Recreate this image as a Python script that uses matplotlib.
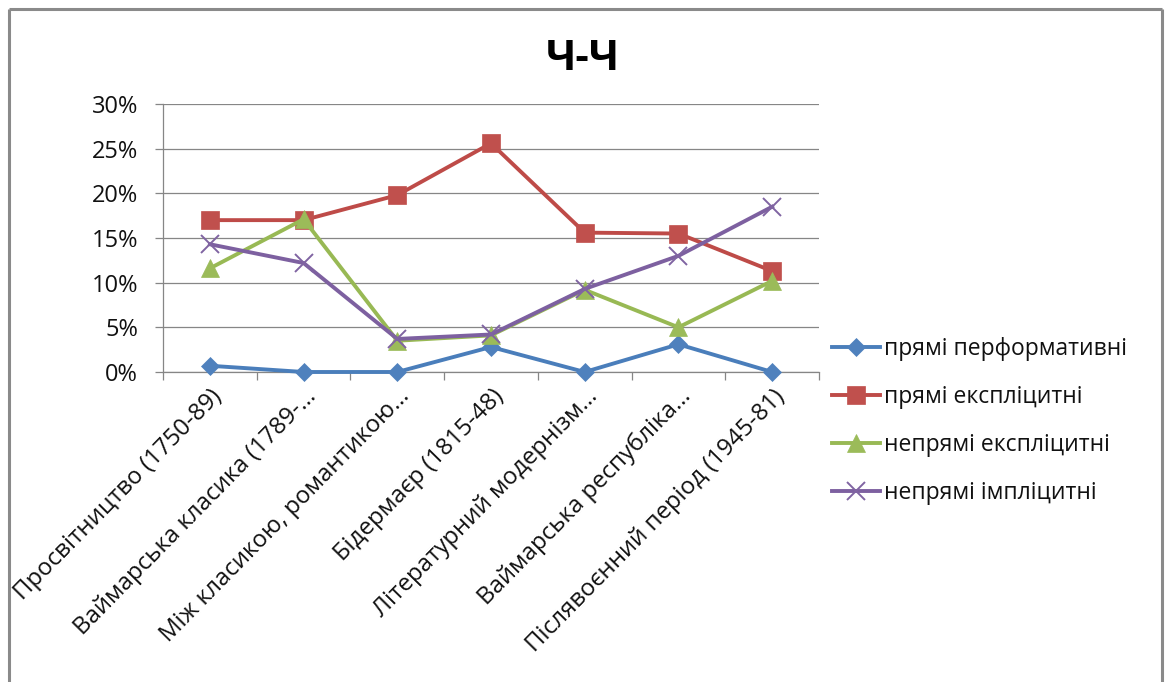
import matplotlib
matplotlib.use("Agg")
import matplotlib.pyplot as plt
from matplotlib.lines import Line2D
from matplotlib.ticker import PercentFormatter, FixedLocator
import matplotlib.transforms as mtransforms

plt.rcParams['font.family'] = ['Open Sans', 'DejaVu Sans']

title = "Ч-Ч"
categories = [
    "Просвітництво (1750-89)",
    "Ваймарська класика (1789-…",
    "Між класикою, романтикою…",
    "Бідермаєр (1815-48)",
    "Літературний модернізм…",
    "Ваймарська республіка…",
    "Післявоєнний період (1945-81)",
]
series_names = [
    "прямі перформативні",
    "прямі експліцитні",
    "непрямі експліцитні",
    "непрямі імпліцитні",
]
# shares, in percent
direct_performative = [0.7, 0.0, 0.0, 2.8, 0.0, 3.1, 0.0]
direct_explicit = [17.0, 17.0, 19.8, 25.6, 15.6, 15.5, 11.3]
indirect_explicit = [11.6, 17.1, 3.5, 4.1, 9.2, 5.0, 10.2]
indirect_implicit = [14.3, 12.2, 3.7, 4.2, 9.3, 13.0, 18.5]

series_values = [direct_performative, direct_explicit, indirect_explicit, indirect_implicit]
line_colors = ["#4A7EBB", "#BE4B48", "#98B954", "#7D60A0"]
marker_colors = ["#4F81BD", "#C0504D", "#9BBB59", "#8064A2"]
markers = ["D", "s", "^", "x"]
marker_sizes = [9.5, 13.5, 13.5, 13.5]

W, H = 1166, 682
fig = plt.figure(figsize=(W / 100, H / 100), dpi=100)
fig.patch.set_facecolor("white")

left, right, top, bottom = 163, 819, 104, 372
ax = fig.add_axes([left / W, 1 - bottom / H, (right - left) / W, (bottom - top) / H])

grey = "#868686"
x = list(range(len(categories)))
for vals, lc, mc, m, ms, name in zip(series_values, line_colors, marker_colors,
                                      markers, marker_sizes, series_names):
    if m == "x":
        ax.plot(x, vals, color=lc, lw=2.8, marker=m, ms=ms, mew=1.4,
                mec=mc, label=name, clip_on=False, zorder=3)
    else:
        ax.plot(x, vals, color=lc, lw=2.8, marker=m, ms=ms, mfc=mc, mec=mc,
                mew=0.5, label=name, clip_on=False, zorder=3)

ax.set_xlim(-0.5, len(categories) - 0.5)
ax.set_ylim(0, 30)
ax.yaxis.set_major_locator(FixedLocator([0, 5, 10, 15, 20, 25, 30]))
ax.yaxis.set_major_formatter(PercentFormatter(decimals=0))
ax.grid(axis="y", color=grey, lw=0.9)
ax.set_axisbelow(True)

for s in ["top", "right"]:
    ax.spines[s].set_visible(False)
for s in ["left", "bottom"]:
    ax.spines[s].set_color(grey)
    ax.spines[s].set_linewidth(0.9)

ax.tick_params(axis="y", length=6, width=0.9, color=grey, pad=12,
               labelsize=17, labelcolor="#111111")

# category ticks sit on the boundaries between categories
ax.xaxis.set_major_locator(FixedLocator(x))
ax.xaxis.set_minor_locator(FixedLocator([i - 0.5 for i in range(len(categories) + 1)]))
ax.tick_params(axis="x", which="major", length=0, labelbottom=False)
ax.tick_params(axis="x", which="minor", length=6, width=0.9, color=grey)

offset = mtransforms.ScaledTranslation(9 / 100, -21 / 100, fig.dpi_scale_trans)
for xi, lab in zip(x, categories):
    ax.text(xi, 0, lab, transform=ax.get_xaxis_transform() + offset,
            rotation=45.5, rotation_mode="anchor", ha="right", va="center",
            fontsize=17.3, color="#111111")

fig.text(0.5, 1 - 60 / H, title, ha="center", va="center",
         fontsize=30, fontweight="bold", color="black")

leg = fig.legend(loc="upper left", bbox_to_anchor=(832 / W, 1 - 337 / H),
                 frameon=False, fontsize=16.5, handlelength=2.1,
                 handletextpad=0.15, labelspacing=1.05, borderpad=0,
                 borderaxespad=0)
for t in leg.get_texts():
    t.set_color("#111111")

# chart frame
frame_kw = dict(transform=fig.transFigure, color="#8a8a8a", lw=2.2,
                solid_capstyle="butt")
fig.add_artist(Line2D([9 / W, 9 / W], [0, 1 - 9 / H], **frame_kw))
fig.add_artist(Line2D([9 / W, 1162 / W], [1 - 9 / H, 1 - 9 / H], **frame_kw))
fig.add_artist(Line2D([1162 / W, 1162 / W], [0, 1 - 9 / H], **frame_kw))

fig.savefig("out.png", dpi=100, facecolor="white")
